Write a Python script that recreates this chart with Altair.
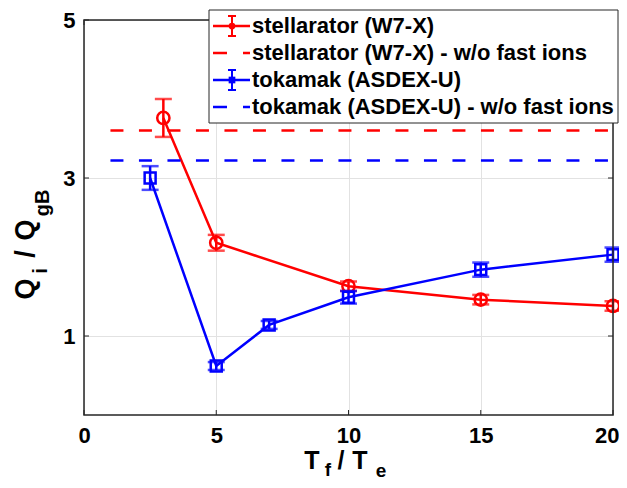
import altair as alt
import pandas as pd

# ---------------- data ----------------
x_stell = [3, 5, 10, 15, 20]
y_stell = [3.76, 2.18, 1.63, 1.46, 1.38]
e_stell = [0.24, 0.10, 0.06, 0.06, 0.06]

x_tok = [2.5, 5, 7, 10, 15, 20]
y_tok = [3.00, 0.62, 1.14, 1.49, 1.84, 2.03]
e_tok = [0.15, 0.05, 0.05, 0.08, 0.09, 0.09]

dash_x = [1, 20]
dash_stell = 3.60
dash_tok = 3.22

legend_labels = [
    "stellarator (W7-X)",
    "stellarator (W7-X) - w/o fast ions",
    "tokamak (ASDEX-U)",
    "tokamak (ASDEX-U) - w/o fast ions",
]
x_ticks = [0, 5, 10, 15, 20]
y_ticks = [1, 3, 5]
x_title_parts = ["T", "f", "/", "T", "e"]
y_title_parts = ["Q", "i", "/", "Q", "gB"]

# ---------------- layout ----------------
W, H = 529, 395
FONT = "Liberation Sans"
RED = "#ff0000"
BLUE = "#0000ff"
LW = 2.5
TK = "#262626"

xs = alt.Scale(domain=[0, 20], nice=False, zero=False)
ys = alt.Scale(domain=[0, 5], nice=False, zero=False)

xaxis = alt.Axis(values=x_ticks, title=None, ticks=False, domain=False, grid=True,
                 gridColor="#e2e2e2", gridWidth=1, labelFont=FONT, labelFontSize=22,
                 labelFontWeight="bold", labelColor="#000", labelPadding=10,
                 labelFlush=False, labelOverlap=False,
                 labelAlign=alt.condition("datum.value == 20", alt.value("right"), alt.value("center")),
                 labelOffset=alt.condition("datum.value == 20", alt.value(6), alt.value(0)))
yaxis = alt.Axis(values=y_ticks, title=None, ticks=False, domain=False, grid=True,
                 gridColor="#e2e2e2", gridWidth=1, labelFont=FONT, labelFontSize=22,
                 labelFontWeight="bold", labelColor="#000", labelPadding=9,
                 labelFlush=False, labelOverlap=False)


def X(f):
    return alt.X(f, scale=xs, axis=xaxis)


def Y(f):
    return alt.Y(f, scale=ys, axis=yaxis)


df_s = pd.DataFrame({"x": x_stell, "y": y_stell,
                     "lo": [a - b for a, b in zip(y_stell, e_stell)],
                     "hi": [a + b for a, b in zip(y_stell, e_stell)]})
df_t = pd.DataFrame({"x": x_tok, "y": y_tok,
                     "lo": [a - b for a, b in zip(y_tok, e_tok)],
                     "hi": [a + b for a, b in zip(y_tok, e_tok)]})
df_ds = pd.DataFrame({"x": dash_x, "y": [dash_stell] * len(dash_x)})
df_dt = pd.DataFrame({"x": dash_x, "y": [dash_tok] * len(dash_x)})
df_xt = pd.DataFrame({"v": x_ticks})
df_yt = pd.DataFrame({"v": y_ticks})
one = pd.DataFrame({"a": [0]})


def series(df, color, shape, size):
    base = alt.Chart(df)
    line = base.mark_line(color=color, strokeWidth=LW).encode(x=X("x:Q"), y=Y("y:Q"))
    bar = base.mark_rule(color=color, strokeWidth=LW).encode(x=X("x:Q"), y=Y("lo:Q"), y2="hi:Q")
    cap_lo = base.mark_tick(color=color, orient="horizontal", size=17, thickness=LW).encode(
        x=X("x:Q"), y=Y("lo:Q"))
    cap_hi = base.mark_tick(color=color, orient="horizontal", size=17, thickness=LW).encode(
        x=X("x:Q"), y=Y("hi:Q"))
    pts = base.mark_point(shape=shape, filled=False, size=size, color=color,
                          strokeWidth=LW, opacity=1).encode(x=X("x:Q"), y=Y("y:Q"))
    return [line, bar, cap_lo, cap_hi, pts]


def dashed(df, color):
    return alt.Chart(df).mark_line(color=color, strokeWidth=LW, strokeDash=[13, 15.5]).encode(
        x=X("x:Q"), y=Y("y:Q"))


def txt(s, x, y, size, angle=0, align="center", baseline="middle"):
    return alt.Chart(one).mark_text(text=s, font=FONT, fontSize=size, fontWeight="bold",
                                    color="#000", align=align, baseline=baseline,
                                    angle=angle).encode(x=alt.value(x), y=alt.value(y))


def prule(x1, x2, y1, y2, color, width=LW, dash=None):
    kw = dict(color=color, strokeWidth=width)
    if dash:
        kw["strokeDash"] = dash
    return alt.Chart(one).mark_rule(**kw).encode(
        x=alt.value(x1), x2=alt.value(x2), y=alt.value(y1), y2=alt.value(y2))


layers = []
layers += series(df_s, RED, "circle", 150)
layers.append(dashed(df_ds, RED))
layers += series(df_t, BLUE, "square", 120)
layers.append(dashed(df_dt, BLUE))

# inward ticks (box style)
layers.append(alt.Chart(df_xt).mark_rule(color=TK, strokeWidth=1).encode(
    x=X("v:Q"), y=alt.value(H), y2=alt.value(H - 5)))
layers.append(alt.Chart(df_xt).mark_rule(color=TK, strokeWidth=1).encode(
    x=X("v:Q"), y=alt.value(0), y2=alt.value(5)))
layers.append(alt.Chart(df_yt).mark_rule(color=TK, strokeWidth=1).encode(
    y=Y("v:Q"), x=alt.value(0), x2=alt.value(5)))
layers.append(alt.Chart(df_yt).mark_rule(color=TK, strokeWidth=1).encode(
    y=Y("v:Q"), x=alt.value(W), x2=alt.value(W - 5)))

# plot frame
layers.append(alt.Chart(one).mark_rect(fill="transparent", stroke=TK, strokeWidth=1.5).encode(
    x=alt.value(0), x2=alt.value(W), y=alt.value(0), y2=alt.value(H)))

# legend
LX1, LX2, LY1, LY2 = 125, 534, -10, 103
layers.append(alt.Chart(one).mark_rect(fill="white", stroke=TK, strokeWidth=1).encode(
    x=alt.value(LX1), x2=alt.value(LX2), y=alt.value(LY1), y2=alt.value(LY2)))
rows = [6, 33, 60, 87]
colors = [RED, RED, BLUE, BLUE]
shapes = ["circle", None, "square", None]
for i, lab in enumerate(legend_labels):
    yy = rows[i]
    c = colors[i]
    if shapes[i] is None:
        layers.append(prule(129, 166, yy, yy, c, dash=[14, 16]))
    else:
        layers.append(prule(129, 166, yy, yy, c))
        layers.append(prule(148, 148, yy - 10, yy + 10, c, width=2))
        layers.append(prule(144, 152, yy - 10, yy - 10, c, width=2))
        layers.append(prule(144, 152, yy + 10, yy + 10, c, width=2))
        layers.append(alt.Chart(one).mark_point(shape=shapes[i], filled=True, size=45, color=c,
                                                opacity=1).encode(x=alt.value(148), y=alt.value(yy)))
    layers.append(txt(lab, 168, yy, 22, align="left"))

# axis titles with subscripts
xt_pos = [(228, 441, 25), (244, 450, 19), (257, 441, 25), (276, 441, 25), (297, 451, 19)]
for s, (px, py, fs) in zip(x_title_parts, xt_pos):
    layers.append(txt(s, px, py, fs))
yt_pos = [(-58, 269, 27), (-43, 251, 20), (-58, 234, 27), (-58, 210, 27), (-41, 183, 20)]
for s, (px, py, fs) in zip(y_title_parts, yt_pos):
    layers.append(txt(s, px, py, fs, angle=270))

chart = alt.layer(*layers).properties(
    width=W, height=H,
    padding={"left": 76, "top": 12, "right": 6, "bottom": 65},
    autosize=alt.AutoSizeParams(type="none"),
    background="white",
).configure_view(strokeWidth=0)

chart.save("out.html", embed_options={"renderer": "svg", "actions": False})
